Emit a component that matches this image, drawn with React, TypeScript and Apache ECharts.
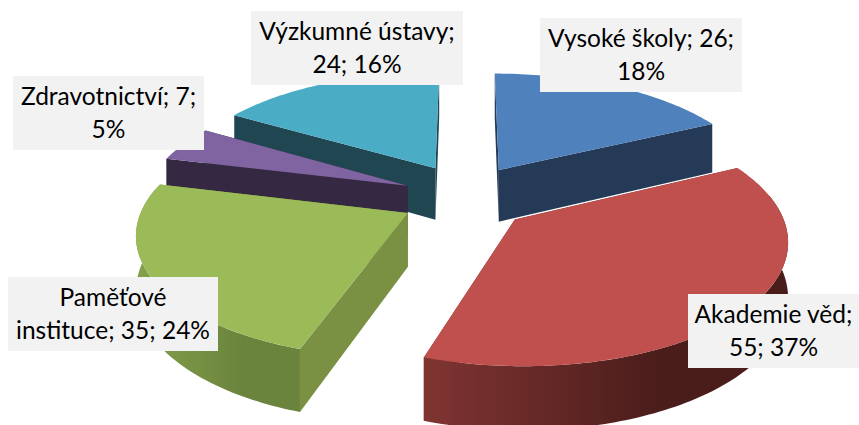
import React, { useEffect, useRef } from "react";
import * as echarts from "echarts";

const categories = ["Vysoké školy", "Akademie věd", "Paměťové instituce", "Zdravotnictví", "Výzkumné ústavy"];
const values = [26, 55, 35, 7, 24];
const percents = [18, 37, 24, 5, 16];
const labelLines = [
  ["Vysoké školy; 26;", "18%"],
  ["Akademie věd;", "55; 37%"],
  ["Paměťové", "instituce; 35; 24%"],
  ["Zdravotnictví; 7;", "5%"],
  ["Výzkumné ústavy;", "24; 16%"],
];
const paintOrder = [0, 4, 3, 2, 1];

const topColors = ["#4f81bd", "#c0504d", "#9bbb59", "#8064a2", "#4bacc6"];
const wallColors = ["#243a57", "#6f2c2a", "#7a9042", "#352842", "#1f4651"];
const bandLeft = ["#243a57", "#803432", "#84a04c", "#352842", "#1f4651"];
const bandRight = ["#243a57", "#4a1d1b", "#6b843d", "#352842", "#1f4651"];

const labelBoxes = [
  [540, 18, 202, 74],
  [688, 294, 171, 74],
  [8, 277, 210, 74],
  [13, 76, 191, 74],
  [251, 11, 212, 74],
];
const sliceNudge = [
  [4, 0],
  [4, -3],
  [0, -3],
  [1, 0],
  [2, -1],
];

const W = 859;
const H = 425;
const CX = 463, CY = 199, EX = 62, EY = 35;
const RX = 263, RY = 118, DEPTH = 53, PERSP = 0.15, EXPLODE = 0.22;
const FONT = "Lato";
const FONT_SIZE = 24.5;

const total = values.reduce((a, b) => a + b, 0);
const starts: number[] = [];
values.reduce((acc, v, i) => { starts[i] = (acc / total) * Math.PI * 2; return acc + v; }, 0);

function project(theta: number, r: number, z: number, mid: number, idx: number): number[] {
  const X = r * Math.sin(theta);
  const Y = r * Math.cos(theta);
  const p = 1 / (1 + PERSP * (Y + EXPLODE * Math.cos(mid)));
  const x0 = EX * Math.sin(mid) + RX * X;
  const y0 = EY * Math.cos(mid) + RY * Y;
  return [CX + x0 * p + sliceNudge[idx][0], CY - y0 * p + DEPTH * z * p + sliceNudge[idx][1]];
}

function arc(a0: number, a1: number, z: number, mid: number, idx: number): number[][] {
  const n = Math.max(2, Math.ceil(Math.abs(a1 - a0) / 0.02));
  const out: number[][] = [];
  for (let i = 0; i <= n; i++) out.push(project(a0 + ((a1 - a0) * i) / n, 1, z, mid, idx));
  return out;
}

function renderSlice(_params: any, api: any) {
  const idx = api.value(0);
  const v = api.value(1);
  const a0 = starts[idx];
  const a1 = a0 + (v / total) * Math.PI * 2;
  const mid = (a0 + a1) / 2;
  const apexT = project(0, 0, 0, mid, idx);
  const apexB = project(0, 0, 1, mid, idx);
  const children: any[] = [];
  const wall = (t: number) => ({
    type: "polygon",
    shape: { points: [apexT, project(t, 1, 0, mid, idx), project(t, 1, 1, mid, idx), apexB] },
    style: { fill: wallColors[idx] },
  });
  children.push(wall(a0), wall(a1));
  const b0 = Math.max(a0, Math.PI / 2 - 0.2);
  const b1 = Math.min(a1, (Math.PI * 3) / 2 + 0.2);
  if (b1 > b0) {
    const upper = arc(b0, b1, 0, mid, idx);
    const lower = arc(b1, b0, 1, mid, idx);
    children.push({
      type: "polygon",
      shape: { points: upper.concat(lower) },
      style: {
        fill: new echarts.graphic.LinearGradient(0, 0, 1, 0, [
          { offset: 0, color: bandLeft[idx] },
          { offset: 0.65, color: bandRight[idx] },
          { offset: 1, color: bandRight[idx] },
        ]),
      },
    });
  }
  children.push({
    type: "polygon",
    shape: { points: [apexT].concat(arc(a0, a1, 0, mid, idx)) },
    style: { fill: topColors[idx] },
  });
  return { type: "group", children };
}

export default function App() {
  const ref = useRef<HTMLDivElement>(null);
  useEffect(() => {
    document.body.style.margin = "0";
    const chart = echarts.init(ref.current!, undefined, { renderer: "svg" });
    const graphic: any[] = [];
    categories.forEach((name, i) => {
      const [x, y, w, h] = labelBoxes[i];
      graphic.push({ type: "rect", z: 10, shape: { x, y, width: w, height: h }, style: { fill: "#f2f2f2" } });
      labelLines[i].forEach((line, j) => {
        graphic.push({
          type: "text",
          z: 11,
          x: x + w / 2,
          y: y + 19 + j * 33,
          style: { text: line, fill: "#000", font: `${FONT_SIZE}px ${FONT}`, align: "center", verticalAlign: "middle" },
        });
      });
    });
    chart.setOption({
      animation: false,
      backgroundColor: "#fff",
      graphic,
      series: [
        {
          type: "custom",
          coordinateSystem: "none",
          renderItem: renderSlice,
          data: paintOrder.map((i) => ({ name: categories[i], value: [i, values[i], percents[i]] })),
          silent: true,
        },
      ],
    });
    return () => chart.dispose();
  }, []);
  return <div ref={ref} style={{ width: W, height: H }} />;
}
